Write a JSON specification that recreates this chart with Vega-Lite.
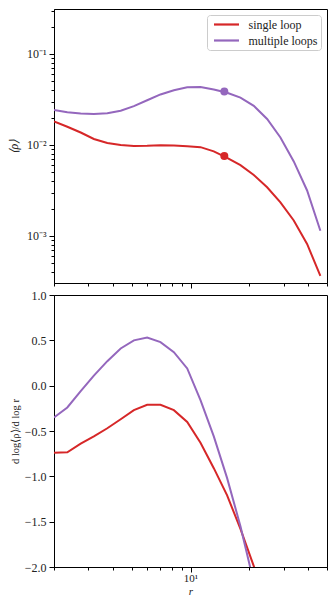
{
  "$schema": "https://vega.github.io/schema/vega-lite/v6.json",
  "padding": {"left": 6, "top": 4, "right": 8, "bottom": 1},
  "background": "white",
  "bounds": "flush",
  "spacing": 12,
  "config": {
    "font": "Liberation Serif",
    "view": {"stroke": "black", "strokeWidth": 1},
    "axis": {"grid": false, "domainColor": "black", "tickColor": "black", "labelColor": "#222", "titleColor": "#222", "labelFontSize": 12, "titleFontSize": 12, "titleFontWeight": "normal", "labelFont": "Liberation Serif", "titleFont": "Liberation Serif"},
    "legend": {"labelFont": "Liberation Serif"}
  },
  "datasets": {
    "profile": [
      {"r": 2.00, "series": "single loop", "rho": 0.0181, "slope": -0.741},
      {"r": 2.34, "series": "single loop", "rho": 0.01585, "slope": -0.735},
      {"r": 2.74, "series": "single loop", "rho": 0.0137, "slope": -0.64},
      {"r": 3.20, "series": "single loop", "rho": 0.01164, "slope": -0.56},
      {"r": 3.75, "series": "single loop", "rho": 0.01052, "slope": -0.47},
      {"r": 4.39, "series": "single loop", "rho": 0.0100, "slope": -0.37},
      {"r": 5.13, "series": "single loop", "rho": 0.00975, "slope": -0.27},
      {"r": 6.00, "series": "single loop", "rho": 0.0098, "slope": -0.21},
      {"r": 7.02, "series": "single loop", "rho": 0.00995, "slope": -0.21},
      {"r": 8.22, "series": "single loop", "rho": 0.00985, "slope": -0.27},
      {"r": 9.62, "series": "single loop", "rho": 0.0097, "slope": -0.40},
      {"r": 11.25, "series": "single loop", "rho": 0.00946, "slope": -0.63},
      {"r": 13.16, "series": "single loop", "rho": 0.00851, "slope": -0.91},
      {"r": 15.40, "series": "single loop", "rho": 0.00723, "slope": -1.21},
      {"r": 18.02, "series": "single loop", "rho": 0.0060, "slope": -1.58},
      {"r": 21.09, "series": "single loop", "rho": 0.00468, "slope": -1.99},
      {"r": 24.68, "series": "single loop", "rho": 0.00343, "slope": -2.45},
      {"r": 28.87, "series": "single loop", "rho": 0.00234, "slope": null},
      {"r": 33.79, "series": "single loop", "rho": 0.00148, "slope": null},
      {"r": 39.54, "series": "single loop", "rho": 0.000817, "slope": null},
      {"r": 46.24, "series": "single loop", "rho": 0.000363, "slope": null},
      {"r": 2.00, "series": "multiple loops", "rho": 0.0243, "slope": -0.35},
      {"r": 2.34, "series": "multiple loops", "rho": 0.0229, "slope": -0.24},
      {"r": 2.74, "series": "multiple loops", "rho": 0.0222, "slope": -0.06},
      {"r": 3.20, "series": "multiple loops", "rho": 0.0219, "slope": 0.11},
      {"r": 3.75, "series": "multiple loops", "rho": 0.0223, "slope": 0.27},
      {"r": 4.39, "series": "multiple loops", "rho": 0.0238, "slope": 0.41},
      {"r": 5.13, "series": "multiple loops", "rho": 0.0267, "slope": 0.50},
      {"r": 6.00, "series": "multiple loops", "rho": 0.0310, "slope": 0.53},
      {"r": 7.02, "series": "multiple loops", "rho": 0.0359, "slope": 0.48},
      {"r": 8.22, "series": "multiple loops", "rho": 0.0400, "slope": 0.37},
      {"r": 9.62, "series": "multiple loops", "rho": 0.0430, "slope": 0.19},
      {"r": 11.25, "series": "multiple loops", "rho": 0.0434, "slope": -0.16},
      {"r": 13.16, "series": "multiple loops", "rho": 0.0407, "slope": -0.56},
      {"r": 15.40, "series": "multiple loops", "rho": 0.0375, "slope": -1.02},
      {"r": 18.02, "series": "multiple loops", "rho": 0.0331, "slope": -1.55},
      {"r": 21.09, "series": "multiple loops", "rho": 0.0269, "slope": -2.17},
      {"r": 24.68, "series": "multiple loops", "rho": 0.0193, "slope": -2.8},
      {"r": 28.87, "series": "multiple loops", "rho": 0.0121, "slope": null},
      {"r": 33.79, "series": "multiple loops", "rho": 0.00659, "slope": null},
      {"r": 39.54, "series": "multiple loops", "rho": 0.00316, "slope": null},
      {"r": 46.24, "series": "multiple loops", "rho": 0.00114, "slope": null}
    ],
    "dots": [
      {"r": 14.9, "series": "single loop", "rho": 0.00757},
      {"r": 14.9, "series": "multiple loops", "rho": 0.0386}
    ]
  },
  "vconcat": [
    {
      "width": 273,
      "height": 274,
      "layer": [
        {
          "data": {"name": "profile"},
          "mark": {"type": "line", "strokeWidth": 2, "clip": true},
          "encoding": {
            "x": {"field": "r", "type": "quantitative", "scale": {"type": "log", "domain": [2, 50], "nice": false},
              "axis": {"title": null, "values": [2,3,4,5,6,7,8,9,10,20,30,40,50], "labels": false, "tickSize": {"condition": {"test": "datum.value == 10", "value": 5}, "value": 3}}},
            "y": {"field": "rho", "type": "quantitative", "scale": {"type": "log", "domain": [0.000304, 0.312], "nice": false},
              "axis": {"title": "⟨ρ⟩", "titleFontStyle": "italic", "titlePadding": 6, "labelOverlap": false, "labelPadding": 3,
                "values": [0.0004,0.0005,0.0006,0.0007,0.0008,0.0009,0.001,0.002,0.003,0.004,0.005,0.006,0.007,0.008,0.009,0.01,0.02,0.03,0.04,0.05,0.06,0.07,0.08,0.09,0.1,0.2,0.3],
                "labelExpr": "datum.value == 0.1 ? '10⁻¹' : datum.value == 0.01 ? '10⁻²' : datum.value == 0.001 ? '10⁻³' : ''",
                "tickSize": {"condition": {"test": "datum.value == 0.1 || datum.value == 0.01 || datum.value == 0.001", "value": 5}, "value": 3}}},
            "color": {"field": "series", "type": "nominal", "sort": ["single loop", "multiple loops"],
              "scale": {"domain": ["single loop", "multiple loops"], "range": ["#d62728", "#9467bd"]},
              "legend": {"title": null, "orient": "top-right", "offset": 6, "symbolType": "M-1,0H9", "symbolSize": 25, "symbolStrokeWidth": 2.2,
                "labelFontSize": 12, "labelOffset": 26, "padding": 3.5, "rowPadding": 4, "fillColor": "white", "strokeColor": "#cccccc", "cornerRadius": 3, "labelColor": "#222"}}
          }
        },
        {
          "data": {"name": "dots"},
          "transform": [{"filter": "datum.series == 'single loop'"}],
          "mark": {"type": "point", "filled": true, "opacity": 1, "size": 64, "color": "#d62728"},
          "encoding": {"x": {"field": "r", "type": "quantitative"}, "y": {"field": "rho", "type": "quantitative"}}
        },
        {
          "data": {"name": "dots"},
          "transform": [{"filter": "datum.series == 'multiple loops'"}],
          "mark": {"type": "point", "filled": true, "opacity": 1, "size": 64, "color": "#9467bd"},
          "encoding": {"x": {"field": "r", "type": "quantitative"}, "y": {"field": "rho", "type": "quantitative"}}
        }
      ]
    },
    {
      "width": 273,
      "height": 272,
      "data": {"name": "profile"},
      "mark": {"type": "line", "strokeWidth": 2, "clip": true},
      "encoding": {
        "x": {"field": "r", "type": "quantitative", "scale": {"type": "log", "domain": [2, 50], "nice": false},
          "axis": {"title": "r", "titleFontStyle": "italic", "titleFontSize": 11, "titlePadding": 2, "labelPadding": 0, "labelFontSize": 11, "labelOverlap": false, "values": [2,3,4,5,6,7,8,9,10,20,30,40,50],
            "labelExpr": "datum.value == 10 ? '10¹' : ''",
            "tickSize": {"condition": {"test": "datum.value == 10", "value": 5}, "value": 3}}},
        "y": {"field": "slope", "type": "quantitative", "scale": {"domain": [-2, 1], "nice": false},
          "axis": {"title": "d log⟨ρ⟩/d log r", "titleFontSize": 10.5, "titlePadding": 4, "values": [-2, -1.5, -1, -0.5, 0, 0.5, 1], "format": ".1f", "tickSize": 5, "labelPadding": 3}},
        "color": {"field": "series", "type": "nominal", "scale": {"domain": ["single loop", "multiple loops"], "range": ["#d62728", "#9467bd"]}, "legend": null}
      }
    }
  ]
}
